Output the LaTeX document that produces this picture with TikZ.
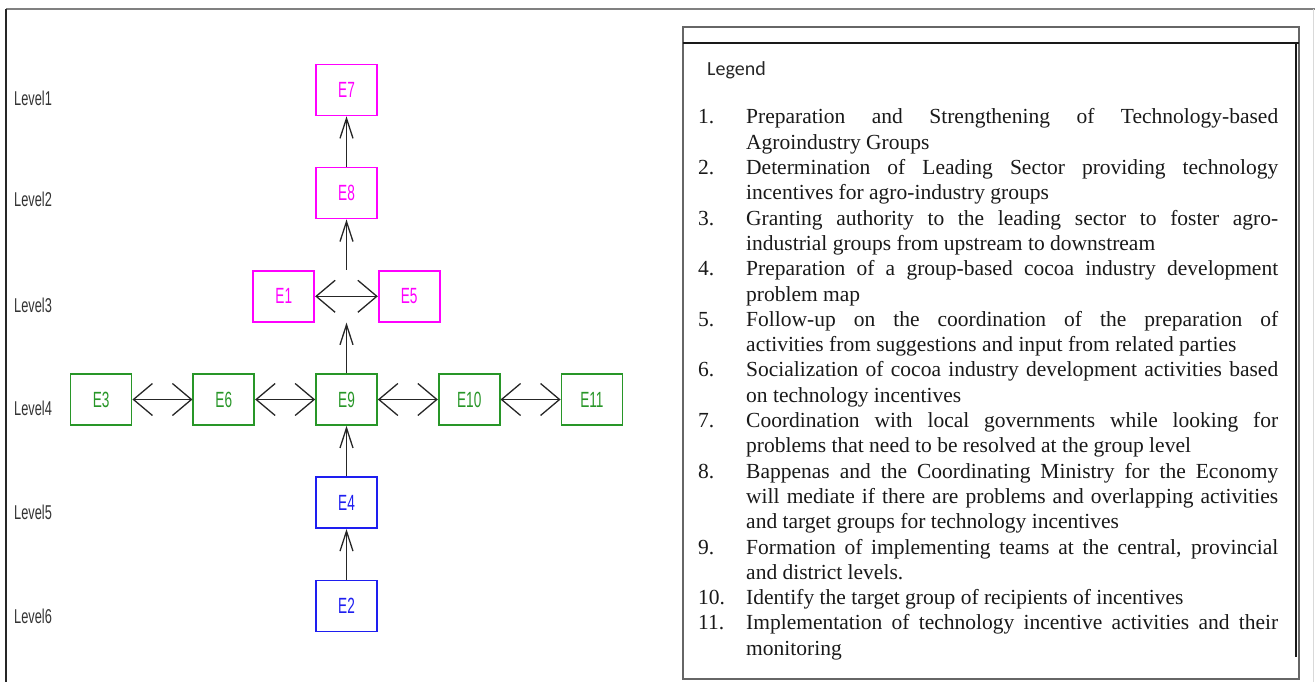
\documentclass[tikz,border=0pt]{standalone}
\usepackage{fontspec}
\setmainfont{Liberation Serif}
\newfontfamily\boxfont[FakeStretch=0.62]{Liberation Sans}
\newfontfamily\levelfont[FakeStretch=0.64]{Liberation Sans}
\newfontfamily\legendfont{Carlito}
\usetikzlibrary{arrows.meta}
\usetikzlibrary{calc,positioning}

\definecolor{elmagenta}{RGB}{255,0,255}
\definecolor{elgreen}{RGB}{40,150,40}
\definecolor{elblue}{RGB}{30,30,240}

\begin{document}
\begin{tikzpicture}[x=1pt,y=-1pt]
    \tikzstyle{element} = [draw, line width=1.7pt, minimum width=61pt, minimum height=51pt, inner sep=0pt, font=\boxfont\fontsize{22}{22}\selectfont]
    \tikzstyle{magenta element} = [element, draw=elmagenta, text=elmagenta]
    \tikzstyle{green element} = [element, draw=elgreen, text=elgreen]
    \tikzstyle{blue element} = [element, draw=elblue, text=elblue]
    \tikzstyle{level} = [anchor=west, inner sep=0pt, text=black!80, font=\levelfont\fontsize{20}{20}\selectfont]
    \tikzstyle{line} = [draw, line width=1.3pt, black!85, -{Straight Barb[length=20pt,width=13pt]}]
    \tikzstyle{both line} = [draw, line width=1.3pt, black!85, {Straight Barb[length=19pt,width=32pt]}-{Straight Barb[length=19pt,width=32pt]}]

    \def\rowGap{50.5pt}
    \def\colGap{60pt}

    \useasboundingbox (0,0) rectangle (1315,682);

    % frame of the figure
    \draw[gray, line width=2pt] (6,9) -- (1315,9);
    \draw[black!85, line width=1.5pt] (6,9) -- (6,682);
    \draw[gray!30, line width=1pt] (1313,9) -- (1313,682);

    \begin{scope}[node distance=\rowGap and \colGap]
    % level 4
    \node[green element] (E9) at (346.5,399.5) {E9};
    \node[green element, left=of E9] (E6) {E6};
    \node[green element, left=of E6] (E3) {E3};
    \node[green element, right=of E9] (E10) {E10};
    \node[green element, right=of E10] (E11) {E11};

    % levels 5 and 6
    \node[blue element, below=of E9] (E4) {E4};
    \node[blue element, below=of E4] (E2) {E2};

    % level 3
    \node[magenta element, above left=\rowGap and 0pt of E9.north west] (E1) {E1};
    \node[magenta element, above right=\rowGap and 0pt of E9.north east] (E5) {E5};

    \coordinate (lowMid) at (E1.south -| E9);
    \coordinate (highMid) at (E1.north -| E9);

    % levels 2 and 1
    \node[magenta element, above=of highMid] (E8) {E8};
    \node[magenta element, above=of E8] (E7) {E7};
    \end{scope}

    \node[level] (lev1) at (14,98) {Level1};
    \node[level] (lev2) at (14,199) {Level2};
    \node[level] (lev3) at (14,305) {Level3};
    \node[level] (lev4) at (14,408) {Level4};
    \node[level] (lev5) at (14,512) {Level5};
    \node[level] (lev6) at (14,616) {Level6};

    \path [line] (E2) -- (E4);
    \path [line] (E4) -- (E9);
    \path [line] (E9) -- (lowMid);
    \path [line] (highMid) -- (E8);
    \path [line] (E8) -- (E7);

    \path [both line] (E1) -- (E5);
    \path [both line] (E3) -- (E6);
    \path [both line] (E6) -- (E9);
    \path [both line] (E9) -- (E10);
    \path [both line] (E10) -- (E11);

    % legend
    \draw[black!60, line width=1.6pt] (683,27) rectangle (1299,679);
    \draw[black!90, line width=1.2pt] (683,43) -- (1299,43);
    \draw[black!90, line width=1.2pt] (1296,43) -- (1296,657);

    \node (legTitle) [%
        anchor=west,
        inner sep=0pt,
        text=black!85,
        font=\legendfont\fontsize{20}{20}\selectfont
    ] at (707,70) {Legend};

    \node (legList) [%
        anchor=base west,
        inner sep=0pt,
        text width=580pt,
        align=justify,
        text=black!90,
        font=\fontsize{21.5}{25.3}\selectfont
    ] at (698,124) {%
        \tolerance=10000 \hyphenpenalty=10000
        \hangindent=48pt \hangafter=1 \makebox[48pt][l]{1.}Preparation and Strengthening of Technology-based\linebreak Agroindustry Groups\par
        \hangindent=48pt \hangafter=1 \makebox[48pt][l]{2.}Determination of Leading Sector providing technology\linebreak incentives for agro-industry groups\par
        \hangindent=48pt \hangafter=1 \makebox[48pt][l]{3.}Granting authority to the leading sector to foster agro-\linebreak{}industrial groups from upstream to downstream\par
        \hangindent=48pt \hangafter=1 \makebox[48pt][l]{4.}Preparation of a group-based cocoa industry development\linebreak problem map\par
        \hangindent=48pt \hangafter=1 \makebox[48pt][l]{5.}Follow-up on the coordination of the preparation of\linebreak activities from suggestions and input from related parties\par
        \hangindent=48pt \hangafter=1 \makebox[48pt][l]{6.}Socialization of cocoa industry development activities based\linebreak on technology incentives\par
        \hangindent=48pt \hangafter=1 \makebox[48pt][l]{7.}Coordination with local governments while looking for\linebreak problems that need to be resolved at the group level\par
        \hangindent=48pt \hangafter=1 \makebox[48pt][l]{8.}Bappenas and the Coordinating Ministry for the Economy\linebreak will mediate if there are problems and overlapping activities\linebreak and target groups for technology incentives\par
        \hangindent=48pt \hangafter=1 \makebox[48pt][l]{9.}Formation of implementing teams at the central, provincial\linebreak and district levels.\par
        \hangindent=48pt \hangafter=1 \makebox[48pt][l]{10.}Identify the target group of recipients of incentives\par
        \hangindent=48pt \hangafter=1 \makebox[48pt][l]{11.}Implementation of technology incentive activities and their\linebreak monitoring\par
    };
\end{tikzpicture}
\end{document}
